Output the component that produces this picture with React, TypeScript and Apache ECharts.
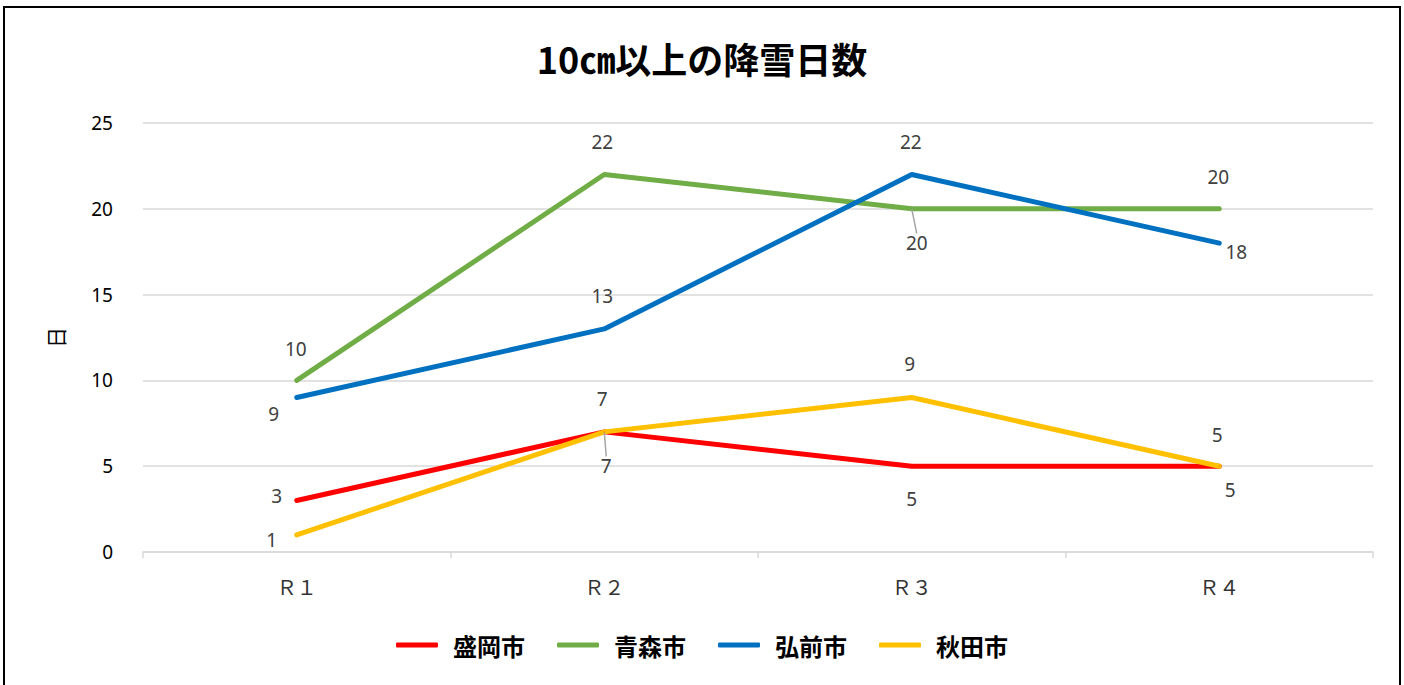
import React, { useEffect, useRef } from "react";
import * as echarts from "echarts";

const categories = ["Ｒ１", "Ｒ２", "Ｒ３", "Ｒ４"];
const seriesNames = ["盛岡市", "青森市", "弘前市", "秋田市"];
const morioka = [3, 7, 5, 5];
const aomori = [10, 22, 20, 20];
const hirosaki = [9, 13, 22, 18];
const akita = [1, 7, 9, 5];
const colors = ["#ff0000", "#70ad47", "#0070c0", "#ffc000"];
const yTicks = [0, 5, 10, 15, 20, 25];

// label offsets [dx, dy] per series / point, and whether a leader line is drawn
const labelOffsets: number[][][] = [
  [[-20, -5], [2, 34], [0, 33], [11, 24]],
  [[-1, -31], [-2, -32], [5, 34], [-1, -32]],
  [[-23, 16], [-2, -33], [-1, -32], [17, 9]],
  [[-25, 5], [-2, -33], [-2, -34], [-2, -31]],
];
const leaders: boolean[][] = [
  [false, true, false, false],
  [false, false, true, false],
  [false, false, false, false],
  [false, false, false, false],
];

export default function App() {
  const ref = useRef<HTMLDivElement>(null);
  useEffect(() => {
    if (!ref.current) return;
    const chart = echarts.init(ref.current, null, { renderer: "svg" });
    const all = [morioka, aomori, hirosaki, akita];
    chart.setOption({
      animation: false,
      title: {
        text: "10㎝以上の降雪日数",
        left: "center",
        top: 35,
        textStyle: {
          fontFamily: "Noto Sans CJK JP",
          fontWeight: "bold",
          fontSize: 36,
          color: "#000",
        },
      },
      legend: {
        bottom: 23,
        left: "center",
        itemWidth: 42,
        itemHeight: 5,
        itemGap: 32,
        icon: "roundRect",
        data: seriesNames.map((n, i) => ({
          name: n,
          itemStyle: { color: colors[i] },
        })),
        textStyle: {
          fontFamily: "Noto Sans CJK JP",
          fontWeight: "bold",
          fontSize: 24,
          color: "#000",
          padding: [0, 0, 0, 10],
        },
      },
      grid: { left: 143, right: 31, top: 123, bottom: 133, containLabel: false },
      xAxis: {
        type: "category",
        data: categories,
        boundaryGap: true,
        axisLine: { lineStyle: { color: "#d9d9d9", width: 1.5 } },
        axisTick: { show: true, length: 6, lineStyle: { color: "#d9d9d9", width: 1.5 } },
        axisLabel: {
          margin: 24,
          fontFamily: "Noto Sans CJK JP",
          fontSize: 20,
          color: "#333",
        },
      },
      yAxis: {
        type: "value",
        min: yTicks[0],
        max: yTicks[yTicks.length - 1],
        interval: 5,
        name: "日",
        nameLocation: "middle",
        nameRotate: 90,
        nameGap: 78,
        nameTextStyle: { fontFamily: "Noto Sans CJK JP", fontSize: 21, color: "#000" },
        axisLine: { show: false },
        axisTick: { show: false },
        splitLine: { lineStyle: { color: "#d9d9d9", width: 1.5 } },
        axisLabel: {
          margin: 30,
          fontFamily: "Noto Sans",
          fontSize: 19,
          color: "#000",
        },
      },
      series: all.map((vals, si) => ({
        name: seriesNames[si],
        type: "line",
        symbol: "circle",
        symbolSize: 1,
        showSymbol: true,
        color: colors[si],
        lineStyle: { width: 5, color: colors[si], cap: "round", join: "round" },
        itemStyle: { color: colors[si] },
        label: {
          show: true,
          position: "inside",
          fontFamily: "Noto Sans",
          fontSize: 19,
          color: "#404040",
        },
        labelLayout: (p: any) => ({
          dx: labelOffsets[si][p.dataIndex][0],
          dy: labelOffsets[si][p.dataIndex][1],
        }),
        data: vals.map((v, di) => ({
          value: v,
          labelLine: {
            show: leaders[si][di],
            lineStyle: { color: "#a6a6a6", width: 1.5 },
          },
        })),
      })),
    });
    return () => chart.dispose();
  }, []);
  return (
    <>
      <div
        ref={ref}
        style={{ position: "absolute", left: 0, top: 0, width: 1404, height: 685 }}
      />
      <div
        style={{
          position: "absolute",
          left: 3,
          top: 6,
          width: 1394,
          height: 700,
          border: "2px solid #000",
          pointerEvents: "none",
        }}
      />
    </>
  );
}
